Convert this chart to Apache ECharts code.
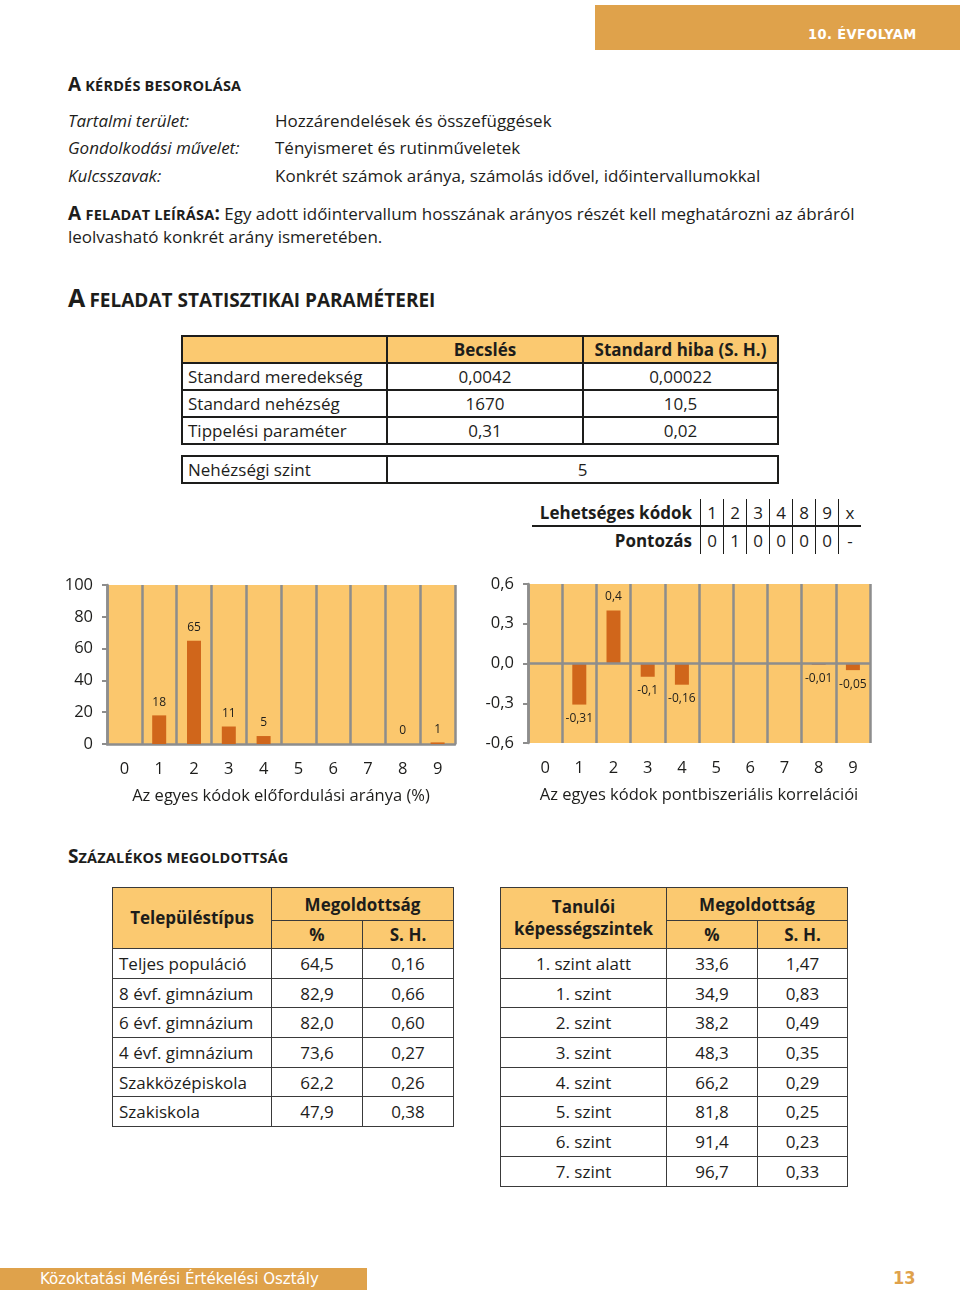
<!DOCTYPE html>
<html lang="hu">
<head>
<meta charset="utf-8">
<script src="https://cdn.jsdelivr.net/npm/echarts@6/dist/echarts.min.js"></script>
<style>
  html,body{margin:0;padding:0;background:#fff;}
  body{width:960px;height:1295px;position:relative;overflow:hidden;font-family:"Open Sans",sans-serif;color:#1d1d1b;}
  .t{position:absolute;white-space:nowrap;}
  .hdr{font-weight:700;}
  .hdr .big{font-size:19px;}
  .hdr .sc{font-size:14.5px;letter-spacing:0.2px;}
  table{border-collapse:collapse;position:absolute;font-size:17px;}
  td,th{padding:0;white-space:nowrap;}
  .orange{background:#fbc970;}
  .tb1 td{border:2px solid #1d1d1b;height:25px;line-height:25px;}
  .tb2 td{border:1.5px solid #3a3a3a;line-height:27px;}
  #c1{position:absolute;left:0;top:570px;width:480px;height:240px;}
  #c2{position:absolute;left:480px;top:570px;width:480px;height:240px;}
</style>
</head>
<body>
<div class="t" style="left:595px;top:5px;width:365px;height:45px;background:#dfa24b;"></div>
<div class="t" style="left:808px;top:23px;line-height:22px;font-family:'DejaVu Sans Condensed','DejaVu Sans',sans-serif;font-weight:700;font-size:14.5px;color:#fff;letter-spacing:0.4px;">10. ÉVFOLYAM</div>

<div class="t hdr" style="left:68px;top:72px;line-height:24px;"><span class="big">A</span> <span class="sc">KÉRDÉS BESOROLÁSA</span></div>

<div id="classif"></div>

<div class="t" style="left:68px;top:200px;line-height:26px;font-size:17px;"><span class="hdr"><span class="big">A</span> <span class="sc">FELADAT LEÍRÁSA</span><span class="big">:</span></span> Egy adott időintervallum hosszának arányos részét kell meghatározni az ábráról</div>
<div class="t" style="left:68px;top:224px;line-height:26px;font-size:17px;">leolvasható konkrét arány ismeretében.</div>

<div class="t hdr" style="left:68px;top:283px;line-height:28px;"><span style="font-size:25px;">A</span> <span style="font-size:19px;">FELADAT STATISZTIKAI PARAMÉTEREI</span></div>

<table class="tb1" id="ptab" style="left:181px;top:335px;width:598px;"></table>
<table class="tb1" id="ntab" style="left:181px;top:455px;width:598px;"></table>
<table id="ctab" style="left:532px;top:499px;"></table>

<div id="c1"></div>
<div id="c2"></div>

<div class="t hdr" style="left:68px;top:843px;line-height:26px;"><span class="big">S</span><span class="sc">ZÁZALÉKOS MEGOLDOTTSÁG</span></div>

<table class="tb2" id="stab" style="left:112px;top:887px;width:342px;"></table>
<table class="tb2" id="ltab" style="left:500px;top:887px;width:348px;"></table>

<div class="t" style="left:0;top:1268px;width:367px;height:22px;background:#dfa24b;"></div>
<div class="t" style="left:40px;top:1268px;line-height:22px;font-family:'DejaVu Sans',sans-serif;font-size:15px;color:#fff;">Közoktatási Mérési Értékelési Osztály</div>
<div class="t" style="left:893px;top:1266px;line-height:24px;font-family:'DejaVu Sans Condensed','DejaVu Sans',sans-serif;font-size:18px;font-weight:700;color:#dfa24b;">13</div>

<script>
// ---------- data ----------
const classLabels = ['Tartalmi terület:', 'Gondolkodási művelet:', 'Kulcsszavak:'];
const classValues = ['Hozzárendelések és összefüggések', 'Tényismeret és rutinműveletek', 'Konkrét számok aránya, számolás idővel, időintervallumokkal'];

const paramHeaders = ['', 'Becslés', 'Standard hiba (S. H.)'];
const paramNames = ['Standard meredekség', 'Standard nehézség', 'Tippelési paraméter'];
const paramEstimates = ['0,0042', '1670', '0,31'];
const paramErrors = ['0,00022', '10,5', '0,02'];
const difficultyLabel = 'Nehézségi szint';
const difficultyLevel = '5';

const codeLabel = 'Lehetséges kódok';
const scoreLabel = 'Pontozás';
const possibleCodes = ['1', '2', '3', '4', '8', '9', 'x'];
const codeScores = ['0', '1', '0', '0', '0', '0', '-'];

const categories = ['0', '1', '2', '3', '4', '5', '6', '7', '8', '9'];
const freqValues = [null, 18, 65, 11, 5, null, null, null, 0, 1];
const corrValues = [null, -0.31, 0.4, -0.1, -0.16, null, null, null, -0.01, -0.05];
const freqAxisName = 'Az egyes kódok előfordulási aránya (%)';
const corrAxisName = 'Az egyes kódok pontbiszeriális korrelációi';

const settlementTypes = ['Teljes populáció', '8 évf. gimnázium', '6 évf. gimnázium', '4 évf. gimnázium', 'Szakközépiskola', 'Szakiskola'];
const settlementPct = ['64,5', '82,9', '82,0', '73,6', '62,2', '47,9'];
const settlementSE = ['0,16', '0,66', '0,60', '0,27', '0,26', '0,38'];

const abilityLevels = ['1. szint alatt', '1. szint', '2. szint', '3. szint', '4. szint', '5. szint', '6. szint', '7. szint'];
const abilityPct = ['33,6', '34,9', '38,2', '48,3', '66,2', '81,8', '91,4', '96,7'];
const abilitySE = ['1,47', '0,83', '0,49', '0,35', '0,29', '0,25', '0,23', '0,33'];

// ---------- text blocks ----------
const classRows = [121, 148, 176];
let ch = '';
classLabels.forEach((l, i) => {
  ch += `<div class="t" style="left:68px;top:${classRows[i]-13}px;line-height:26px;font-size:17px;font-style:italic;">${l}</div>`;
  ch += `<div class="t" style="left:275px;top:${classRows[i]-13}px;line-height:26px;font-size:17px;">${classValues[i]}</div>`;
});
document.getElementById('classif').innerHTML = ch;

// parameter table
let p = `<tr class="orange"><td style="width:203px"></td><td style="width:194px;text-align:center;font-weight:700">${paramHeaders[1]}</td><td style="text-align:center;font-weight:700">${paramHeaders[2]}</td></tr>`;
paramNames.forEach((n, i) => {
  p += `<tr><td style="padding-left:5px">${n}</td><td style="text-align:center">${paramEstimates[i]}</td><td style="text-align:center">${paramErrors[i]}</td></tr>`;
});
document.getElementById('ptab').innerHTML = p;
document.getElementById('ntab').innerHTML = `<tr><td style="width:198px;padding-left:5px">${difficultyLabel}</td><td style="text-align:center">${difficultyLevel}</td></tr>`;

// code table
let c = `<tr><td style="width:160px;text-align:right;padding-right:8px;font-weight:700;border-bottom:2px solid #1d1d1b;height:26px;">${codeLabel}</td>`;
possibleCodes.forEach(v => {
  c += `<td style="width:22px;text-align:center;border-left:1.5px solid #1d1d1b;border-bottom:2px solid #1d1d1b;">${v}</td>`;
});
c += `</tr><tr><td style="text-align:right;padding-right:8px;font-weight:700;height:27px;">${scoreLabel}</td>`;
codeScores.forEach(v => { c += `<td style="text-align:center;border-left:1.5px solid #1d1d1b;">${v}</td>`; });
c += '</tr>';
document.getElementById('ctab').innerHTML = c;

// bottom tables
function buildTable(id, firstHeader, names, pct, se, firstAlign, w) {
  let h = `<tr class="orange"><td rowspan="2" style="width:${w[0]}px;text-align:center;font-weight:700;line-height:22px;">${firstHeader}</td><td colspan="2" style="text-align:center;font-weight:700;height:32px;">Megoldottság</td></tr>`;
  h += `<tr class="orange"><td style="width:${w[1]}px;text-align:center;font-weight:700;height:27px;">%</td><td style="text-align:center;font-weight:700">S. H.</td></tr>`;
  names.forEach((n, i) => {
    h += `<tr><td style="text-align:${firstAlign};padding-left:${firstAlign==='left'?6:0}px;height:28.7px;">${n}</td><td style="text-align:center">${pct[i]}</td><td style="text-align:center">${se[i]}</td></tr>`;
  });
  document.getElementById(id).innerHTML = h;
}
buildTable('stab', 'Településtípus', settlementTypes, settlementPct, settlementSE, 'left', [158, 90]);
buildTable('ltab', 'Tanulói<br>képességszintek', abilityLevels, abilityPct, abilitySE, 'center', [165, 90]);

// ---------- charts ----------
const FONT = '"Open Sans", sans-serif';
const GRAY = '#8d8d8d';
const BAR = '#d0661b';
const BG = '#fbc76d';

function baseX(name, gap, showLine) {
  return {
    type: 'category', data: categories,
    name: name, nameLocation: 'middle', nameGap: gap,
    nameTextStyle: { fontSize: 16.5, color: '#1d1d1b', fontFamily: FONT },
    axisTick: { show: false },
    axisLine: { show: showLine, onZero: false, lineStyle: { color: GRAY, width: 2.5 } },
    splitLine: { show: true, interval: 0, lineStyle: { color: GRAY, width: 2.5 } },
    axisLabel: { interval: 0, margin: 17, fontSize: 16.5, color: '#1d1d1b', fontFamily: FONT }
  };
}
function baseY(min, max, interval, fmt) {
  return {
    type: 'value', min: min, max: max, interval: interval,
    axisLine: { show: true, lineStyle: { color: GRAY, width: 2.5 } },
    axisTick: { show: true, length: 5, lineStyle: { color: GRAY, width: 2 } },
    splitLine: { show: false },
    axisLabel: { margin: 14, fontSize: 16.5, color: '#1d1d1b', fontFamily: FONT, formatter: fmt }
  };
}

const c1 = echarts.init(document.getElementById('c1'));
c1.setOption({
  animation: false,
  grid: { left: 107, right: 25, top: 15, bottom: 66, show: true, backgroundColor: BG, borderWidth: 0 },
  xAxis: baseX(freqAxisName, 44, true),
  yAxis: baseY(0, 100, 20, v => String(v)),
  series: [{
    type: 'bar', data: freqValues, barWidth: 14,
    itemStyle: { color: BAR },
    label: { show: true, position: 'top', distance: 7, fontSize: 12, color: '#1d1d1b', fontFamily: FONT,
      formatter: q => (q.value == null ? '' : String(q.value)) }
  }]
});

const c2 = echarts.init(document.getElementById('c2'));
c2.setOption({
  animation: false,
  grid: { left: 48, right: 90, top: 14, bottom: 67, show: true, backgroundColor: BG, borderWidth: 0 },
  xAxis: baseX(corrAxisName, 44, false),
  yAxis: baseY(-0.6, 0.6, 0.3, v => v.toFixed(1).replace('.', ',')),
  series: [{
    type: 'bar', barWidth: 14,
    data: corrValues.map(v => ({ value: v, label: { position: (v != null && v < 0) ? 'bottom' : 'top' } })),
    itemStyle: { color: BAR },
    label: { show: true, distance: 8, fontSize: 12, color: '#1d1d1b', fontFamily: FONT,
      formatter: q => (q.value == null ? '' : String(q.value).replace('.', ',')) },
    markLine: { silent: true, symbol: 'none', label: { show: false },
      lineStyle: { color: GRAY, width: 2.5, type: 'solid' }, data: [{ yAxis: 0 }] }
  }]
});
</script>
</body>
</html>
